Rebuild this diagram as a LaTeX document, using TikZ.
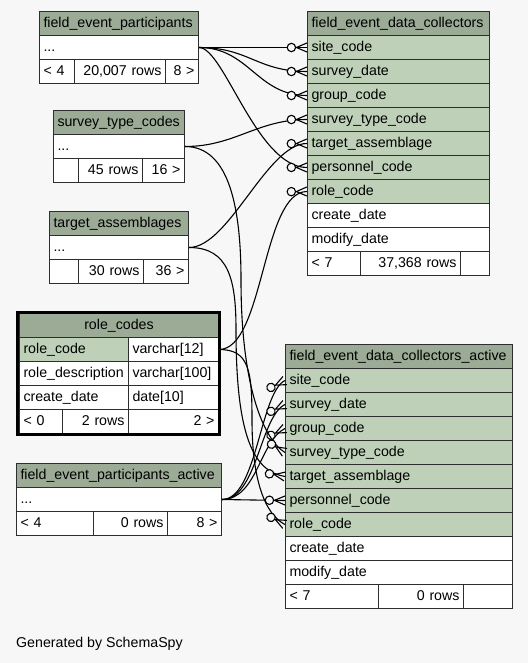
\documentclass[tikz,border=0pt]{standalone}
\usepackage{fontspec}
\setmainfont{Liberation Sans}
\usetikzlibrary{decorations.markings}
\definecolor{bgcol}{HTML}{F7F7F7}
\definecolor{hdrgreen}{HTML}{9BAB96}
\definecolor{keygreen}{HTML}{BED1B8}
\definecolor{tbline}{HTML}{2E2E2E}
\tikzset{
  cell/.style={draw=tbline, line width=1pt, anchor=north west, minimum height=24pt,
    inner xsep=4pt, inner ysep=0pt, text height=10.5pt, text depth=3pt, align=left,
    font=\fontsize{14.2}{17}\selectfont},
  cw/.style={minimum width=#1pt, text width=#1pt-8pt},
  hdr/.style={cell, fill=hdrgreen},
  keyrow/.style={cell, fill=keygreen},
  plain/.style={cell, fill=white},
  num/.style={plain, align=right},
  crowfoot/.style={postaction={decorate, decoration={markings, mark=at position 0.999 with {
    \draw[fill=bgcol, line width=1.1pt] (-15.5pt,0pt) circle (4.2pt);
    \draw[line width=1.1pt] (0pt,4.5pt) -- (-10.5pt,0pt) -- (0pt,-4.5pt);}}}},
  fk/.style={line width=1.1pt, crowfoot}
}
\begin{document}
\begin{tikzpicture}[x=1pt,y=-1pt]
\useasboundingbox[fill=bgcol] (0,0) rectangle (528,663);

% field_event_participants
\node[hdr, cw=159] (fep) at (39,11) {field\_event\_participants};
\node[plain, cw=159] (fep-dots) at (39,35) {...};
\node[plain, cw=35] (fep-f1) at (39,59) {< 4};
\node[num, cw=91] (fep-f2) at (74,59) {20,007 rows};
\node[num, cw=33] (fep-f3) at (165,59) {8 >};

% survey_type_codes
\node[hdr, cw=131] (stc) at (53,110) {survey\_type\_codes};
\node[plain, cw=131] (stc-dots) at (53,134) {...};
\node[plain, cw=25] (stc-f1) at (53,158) {};
\node[num, cw=64] (stc-f2) at (78,158) {45 rows};
\node[num, cw=42] (stc-f3) at (142,158) {16 >};

% target_assemblages
\node[hdr, cw=139] (ta) at (49,211) {target\_assemblages};
\node[plain, cw=139] (ta-dots) at (49,235) {...};
\node[plain, cw=29] (ta-f1) at (49,259) {};
\node[num, cw=65] (ta-f2) at (78,259) {30 rows};
\node[num, cw=45] (ta-f3) at (143,259) {36 >};

% role_codes
\node[hdr, cw=199, align=center] (rc) at (19,313) {role\_codes};
\node[keyrow, cw=109] (rc-key) at (19,337) {role\_code};
\node[plain, cw=90] (rc-key-type) at (128,337) {varchar[12]};
\node[plain, cw=109] (rc-desc) at (19,361) {role\_description};
\node[plain, cw=90] (rc-desc-type) at (128,361) {varchar[100]};
\node[plain, cw=109] (rc-cdate) at (19,385) {create\_date};
\node[plain, cw=90] (rc-cdate-type) at (128,385) {date[10]};
\node[plain, cw=43] (rc-f1) at (19,409) {< 0};
\node[num, cw=66] (rc-f2) at (62,409) {2 rows};
\node[num, cw=90] (rc-f3) at (128,409) {2 >};
\draw[line width=3pt] (17.5,312) rectangle (219,434.5);

% field_event_participants_active
\node[hdr, cw=205] (fepa) at (16,463) {field\_event\_participants\_active};
\node[plain, cw=205] (fepa-dots) at (16,487) {...};
\node[plain, cw=77] (fepa-f1) at (16,511) {< 4};
\node[num, cw=74] (fepa-f2) at (93,511) {0 rows};
\node[num, cw=54] (fepa-f3) at (167,511) {8 >};

% field_event_data_collectors
\node[hdr, cw=182] (fedc) at (307,11) {field\_event\_data\_collectors};
\node[keyrow, cw=182] (fedc-site) at (307,35) {site\_code};
\node[keyrow, cw=182] (fedc-sdate) at (307,59) {survey\_date};
\node[keyrow, cw=182] (fedc-group) at (307,83) {group\_code};
\node[keyrow, cw=182] (fedc-stype) at (307,107) {survey\_type\_code};
\node[keyrow, cw=182] (fedc-target) at (307,131) {target\_assemblage};
\node[keyrow, cw=182] (fedc-pers) at (307,155) {personnel\_code};
\node[keyrow, cw=182] (fedc-role) at (307,179) {role\_code};
\node[plain, cw=182] (fedc-cdate) at (307,203) {create\_date};
\node[plain, cw=182] (fedc-mdate) at (307,227) {modify\_date};
\node[plain, cw=53] (fedc-f1) at (307,251) {< 7};
\node[num, cw=100] (fedc-f2) at (360,251) {37,368 rows};
\node[plain, cw=29] (fedc-f3) at (460,251) {};

% field_event_data_collectors_active
\node[hdr, cw=227] (fedca) at (285,344) {field\_event\_data\_collectors\_active};
\node[keyrow, cw=227] (fedca-site) at (285,368) {site\_code};
\node[keyrow, cw=227] (fedca-sdate) at (285,392) {survey\_date};
\node[keyrow, cw=227] (fedca-group) at (285,416) {group\_code};
\node[keyrow, cw=227] (fedca-stype) at (285,440) {survey\_type\_code};
\node[keyrow, cw=227] (fedca-target) at (285,464) {target\_assemblage};
\node[keyrow, cw=227] (fedca-pers) at (285,488) {personnel\_code};
\node[keyrow, cw=227] (fedca-role) at (285,512) {role\_code};
\node[plain, cw=227] (fedca-cdate) at (285,536) {create\_date};
\node[plain, cw=227] (fedca-mdate) at (285,560) {modify\_date};
\node[plain, cw=93] (fedca-f1) at (285,584) {< 7};
\node[num, cw=85] (fedca-f2) at (378,584) {0 rows};
\node[plain, cw=49] (fedca-f3) at (463,584) {};

% relations into field_event_data_collectors
\draw[fk] (fep-dots.east) -- (fedc-site.west);
\draw[fk] (fep-dots.east) .. controls +(50,0) and +(-50,0) .. (fedc-sdate.west);
\draw[fk] (fep-dots.east) .. controls +(50,0) and +(-50,0) .. (fedc-group.west);
\draw[fk] (fep-dots.east) .. controls +(25,0) and +(-50,0) .. (fedc-pers.west);
\draw[fk] (stc-dots.east) .. controls +(50,0) and +(-50,0) .. (fedc-stype.west);
\draw[fk] (ta-dots.east) .. controls +(40,0) and +(-40,0) .. (fedc-target.west);
\draw[fk] (rc-key-type.east) .. controls +(45,0) and +(-45,0) .. (fedc-role.west);

% relations into field_event_data_collectors_active
\draw[fk] (fepa-dots.east) .. controls +(35,0) and +(-25,12) .. (fedca-site.west);
\draw[fk] (fepa-dots.east) .. controls +(35,0) and +(-25,12) .. (fedca-sdate.west);
\draw[fk] (fepa-dots.east) .. controls +(35,0) and +(-25,12) .. (fedca-group.west);
\draw[fk] (fepa-dots.east) -- (fedca-pers.west);
\draw[fk] (stc-dots.east) .. controls +(45,0) and +(0,-70) .. (241,280)
  .. controls +(0,110) and +(-20,-12) .. (fedca-stype.west);
\draw[fk] (ta-dots.east) .. controls +(40,0) and +(0,-50) .. (236,330)
  .. controls +(0,110) and +(-30,-5) .. (fedca-target.west);
\draw[fk] (rc-key-type.east) .. controls +(30,0) and +(0,-50) .. (252,420)
  .. controls +(0,60) and +(-20,-10) .. (fedca-role.west);

\node[anchor=west, inner sep=0pt, font=\fontsize{14.2}{17}\selectfont] (credit) at (16,644) {Generated by SchemaSpy};
\end{tikzpicture}
\end{document}
